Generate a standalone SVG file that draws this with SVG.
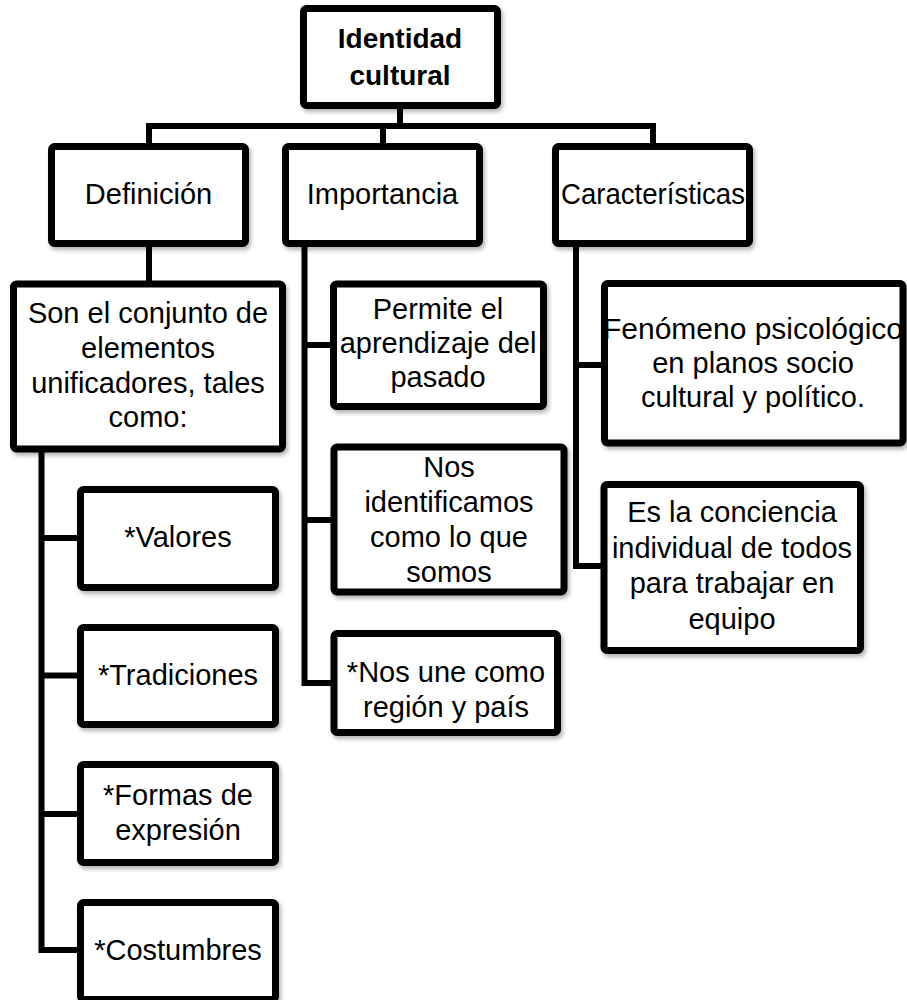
<svg xmlns="http://www.w3.org/2000/svg" width="907" height="1000" viewBox="0 0 907 1000">
<style>
.box{fill:#fff;stroke:#000;stroke-width:7;filter:url(#sh)}
.t{font-family:"Liberation Sans",Arial,sans-serif;font-size:29px;fill:#000;text-anchor:middle}
.b{font-weight:bold;font-size:28px}
.c{fill:none;stroke:#000;stroke-width:6;stroke-linejoin:miter;stroke-linecap:butt}
</style>
<defs>
<filter id="sh" x="-10%" y="-10%" width="130%" height="130%">
<feDropShadow dx="2" dy="3" stdDeviation="2" flood-color="#000" flood-opacity="0.3"/>
</filter>
</defs>
<rect width="907" height="1000" fill="#fff"/>
<g id="connectors">
<path class="c" d="M400 109V126"/>
<path class="c" d="M146 126H656"/>
<path class="c" d="M149 126V144M383 126V144M653 126V144"/>
<path class="c" d="M149 247V282"/>
<path class="c" d="M41.5 452V950H78M41.5 538H78M41.5 675.5H78M41.5 814H78"/>
<path class="c" d="M304.5 247V683H331M304.5 345H331M304.5 520H331"/>
<path class="c" d="M576 247V566H602M576 365H602"/>
</g>
<g id="n-identidad">
<rect class="box" x="303.5" y="8.5" width="194" height="97" rx="3"/>
<text class="t b" x="400" y="48">Identidad</text>
<text class="t b" x="400" y="85">cultural</text>
</g>
<g id="n-definicion">
<rect class="box" x="51.5" y="146.5" width="194" height="97" rx="3"/>
<text class="t" x="148.5" y="204">Definición</text>
</g>
<g id="n-importancia">
<rect class="box" x="285.5" y="146.5" width="194" height="97" rx="3"/>
<text class="t" x="382.5" y="204">Importancia</text>
</g>
<g id="n-caracteristicas">
<rect class="box" x="555.5" y="146.5" width="194" height="97" rx="3"/>
<text class="t" x="653" y="204" textLength="184" lengthAdjust="spacingAndGlyphs">Características</text>
</g>
<g id="n-conjunto">
<rect class="box" x="13.5" y="284" width="269" height="165" rx="3"/>
<text class="t" x="148" y="323">Son el conjunto de</text>
<text class="t" x="148" y="358">elementos</text>
<text class="t" x="148" y="393">unificadores, tales</text>
<text class="t" x="148" y="427">como:</text>
</g>
<g id="n-valores">
<rect class="box" x="80.5" y="489.5" width="195" height="98" rx="3"/>
<text class="t" x="178" y="547">*Valores</text>
</g>
<g id="n-tradiciones">
<rect class="box" x="80.5" y="627.5" width="195" height="97" rx="3"/>
<text class="t" x="178" y="685">*Tradiciones</text>
</g>
<g id="n-formas">
<rect class="box" x="80.5" y="764.5" width="195" height="98" rx="3"/>
<text class="t" x="178" y="805">*Formas de</text>
<text class="t" x="178" y="840">expresión</text>
</g>
<g id="n-costumbres">
<rect class="box" x="80.5" y="902.5" width="195" height="97" rx="3"/>
<text class="t" x="178" y="960">*Costumbres</text>
</g>
<g id="n-permite">
<rect class="box" x="333.5" y="284" width="210" height="122.5" rx="3"/>
<text class="t" x="438" y="319">Permite el</text>
<text class="t" x="438" y="353">aprendizaje del</text>
<text class="t" x="438" y="387">pasado</text>
</g>
<g id="n-nos">
<rect class="box" x="334" y="447" width="230" height="145" rx="3"/>
<text class="t" x="449" y="477">Nos</text>
<text class="t" x="449" y="512">identificamos</text>
<text class="t" x="449" y="547">como lo que</text>
<text class="t" x="449" y="582">somos</text>
</g>
<g id="n-nosune">
<rect class="box" x="334" y="633.5" width="223.5" height="99" rx="3"/>
<text class="t" x="446" y="682">*Nos une como</text>
<text class="t" x="446" y="717">región y país</text>
</g>
<g id="n-fenomeno">
<rect class="box" x="604.5" y="283.5" width="298.5" height="159.5" rx="3"/>
<text class="t" x="753" y="339" textLength="300" lengthAdjust="spacingAndGlyphs">Fenómeno  psicológico</text>
<text class="t" x="753" y="373">en  planos socio</text>
<text class="t" x="753" y="407">cultural y político.</text>
</g>
<g id="n-conciencia">
<rect class="box" x="604" y="484.5" width="256.5" height="166" rx="3"/>
<text class="t" x="732" y="522">Es la conciencia</text>
<text class="t" x="732" y="558">individual de todos</text>
<text class="t" x="732" y="593">para trabajar en</text>
<text class="t" x="732" y="629">equipo</text>
</g>
</svg>
